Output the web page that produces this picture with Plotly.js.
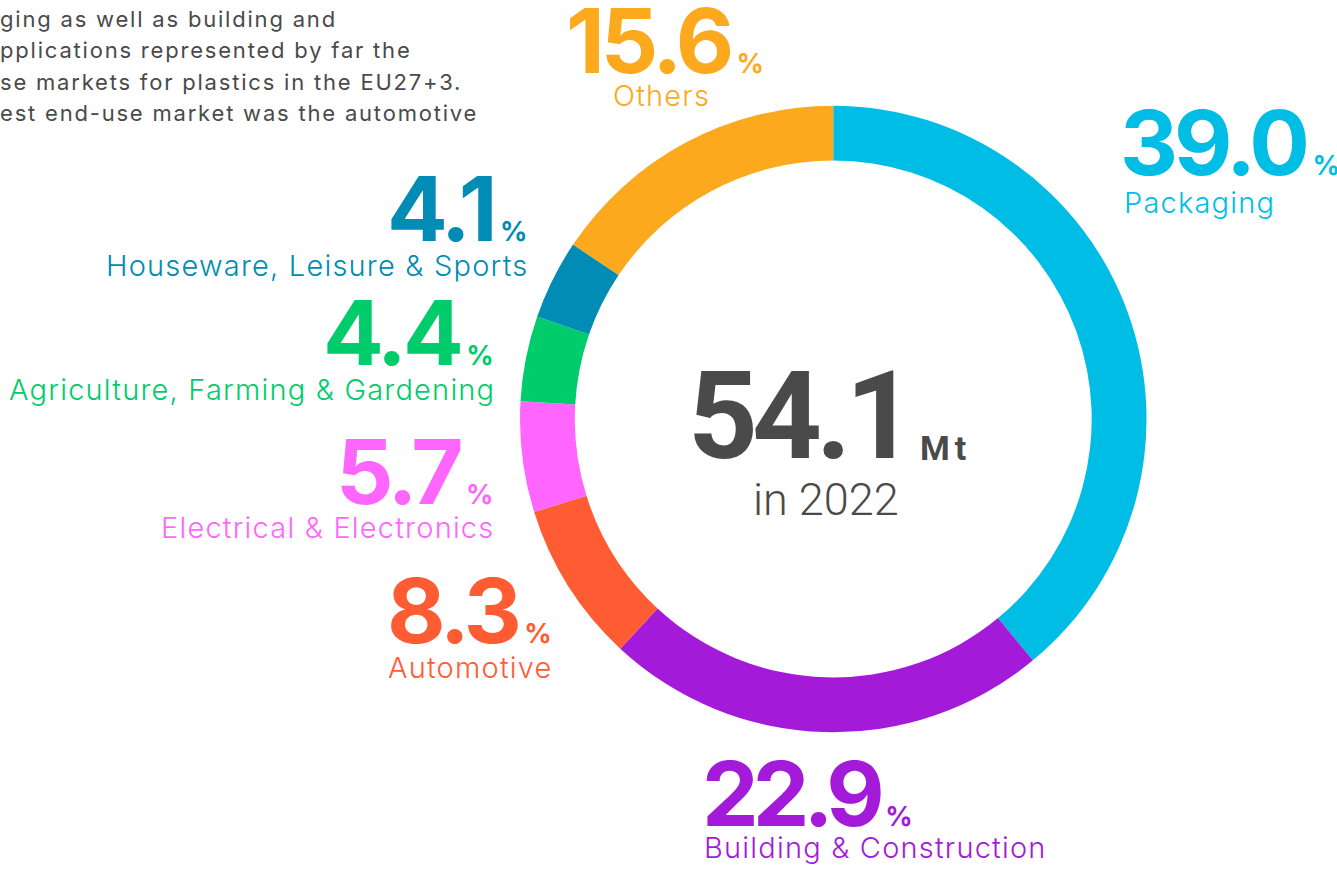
<!DOCTYPE html>
<html>
<head>
<meta charset="utf-8">
<script src="https://cdn.plot.ly/plotly-3.0.1.min.js"></script>
<style>
  html, body { margin: 0; padding: 0; background: #ffffff; }
  #chart { width: 1337px; height: 870px; }
</style>
</head>
<body>
<div id="chart"></div>
<script>
// ---- data ----
const categories = [
  "Packaging",
  "Building & Construction",
  "Automotive",
  "Electrical & Electronics",
  "Agriculture, Farming & Gardening",
  "Houseware, Leisure & Sports",
  "Others"
];
const shares = [39.0, 22.9, 8.3, 5.7, 4.4, 4.1, 15.6];
const totalMt = "54.1";
const totalUnit = "Mt";
const year = "in 2022";
const introLines = [
  "ging as well as building and",
  "pplications represented by far the",
  "se markets for plastics in the EU27+3.",
  "est end-use market was the automotive"
];

// ---- style ----
const colors = ["#00BDE6", "#A31BD8", "#FF5C33", "#FF66FF", "#00CC6B", "#008CB4", "#FCA91D"];
const W = 1337, H = 870;
const px = x => x / W;
const py = y => 1 - y / H;
const NUM_SIZE = 90, PCT_SIZE = 27, LBL_SIZE = 29;
const FONT = "Inter, 'Open Sans', sans-serif";

// label placement: [number x, number baseline, label x, label baseline, xanchor, number tracking]
const place = [
  [1119, 175, 1123, 213, "left", -4],
  [701, 826, 703, 858, "left", -6],
  [553, 643, 554, 678, "right", -4],
  [494, 504, 495, 538, "right", -4],
  [495, 365, 496, 400, "right", -4],
  [528, 241, 529, 276, "right", -4],
  [665, 73, 661, 106, "center", -4]
];

const annotations = [];
categories.forEach((cat, i) => {
  const [nx, nb, lx, lb, xa, tr] = place[i];
  annotations.push({
    xref: "paper", yref: "paper", x: px(nx), y: py(nb - 0.364 * NUM_SIZE),
    xanchor: xa, yanchor: "middle", showarrow: false, borderpad: 0,
    text: '<span style="letter-spacing:' + tr + 'px">' + shares[i].toFixed(1) + '</span><span style="font-size:' + PCT_SIZE + 'px"> %</span>',
    font: { family: FONT, size: NUM_SIZE, color: colors[i], weight: 700 }
  });
  annotations.push({
    xref: "paper", yref: "paper", x: px(lx), y: py(lb - 0.364 * LBL_SIZE),
    xanchor: xa, yanchor: "middle", showarrow: false, borderpad: 0,
    text: '<span style="letter-spacing:1.2px">' + cat + '</span>',
    font: { family: FONT, size: LBL_SIZE, color: colors[i], weight: 300 }
  });
});

// center text
annotations.push({
  xref: "paper", yref: "paper", x: px(687), y: py(460 - 0.356 * 122),
  xanchor: "left", yanchor: "middle", showarrow: false, borderpad: 0,
  text: '<span style="letter-spacing:-6px">' + totalMt + '</span>',
  font: { family: "Roboto, sans-serif", size: 122, color: "#4A4A4A", weight: 700 }
});
annotations.push({
  xref: "paper", yref: "paper", x: px(919), y: py(460 - 0.356 * 34),
  xanchor: "left", yanchor: "middle", showarrow: false, borderpad: 0,
  text: '<span style="letter-spacing:5px">' + totalUnit + '</span>',
  font: { family: "Roboto, sans-serif", size: 34, color: "#4A4A4A", weight: 700 }
});
annotations.push({
  xref: "paper", yref: "paper", x: px(826), y: py(516 - 0.356 * 45),
  xanchor: "center", yanchor: "middle", showarrow: false, borderpad: 0,
  text: year,
  font: { family: "Roboto, sans-serif", size: 45, color: "#4A4A4A", weight: 300 }
});

// intro paragraph (cropped at left edge)
introLines.forEach((line, k) => {
  annotations.push({
    xref: "paper", yref: "paper", x: px(-1), y: py(27 + k * 31.5 - 0.364 * 22),
    xanchor: "left", yanchor: "middle", showarrow: false, borderpad: 0,
    text: '<span style="letter-spacing:1.8px">' + line + '</span>',
    font: { family: FONT, size: 22, color: "#4A4A4A", weight: 400 }
  });
});

const trace = {
  type: "pie",
  labels: categories,
  values: shares,
  sort: false,
  direction: "clockwise",
  rotation: 0,
  hole: 0.825,
  textinfo: "none",
  hoverinfo: "label+value",
  marker: { colors: colors, line: { width: 0 } },
  domain: { x: [px(520), px(1146.5)], y: [py(732.5), py(105.5)] },
  showlegend: false
};

const layout = {
  width: W, height: H,
  margin: { l: 0, r: 0, t: 0, b: 0 },
  paper_bgcolor: "#ffffff",
  plot_bgcolor: "#ffffff",
  showlegend: false,
  annotations: annotations
};

Plotly.newPlot("chart", [trace], layout, { displayModeBar: false, staticPlot: true });
</script>
</body>
</html>
